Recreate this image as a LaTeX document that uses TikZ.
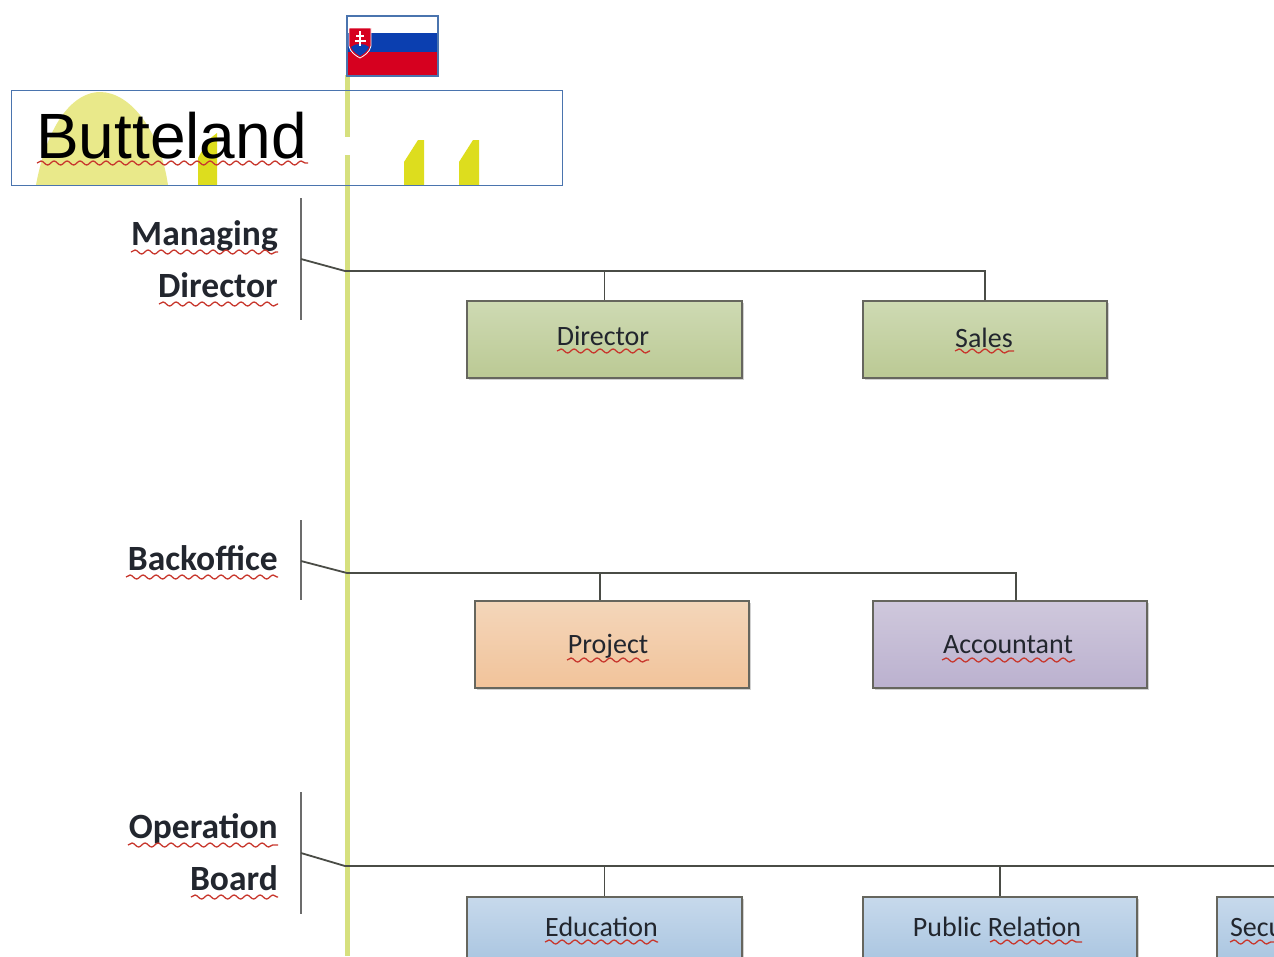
\documentclass[tikz,border=0pt]{standalone}
\usepackage{fontspec}
\setmainfont{Carlito}
\newfontfamily\arialfont{Liberation Sans}
\usetikzlibrary{decorations.pathmorphing,shadows}
\definecolor{boxedge}{HTML}{66665E}
\definecolor{inktext}{HTML}{22262E}
\definecolor{linedark}{HTML}{4A4C46}
\definecolor{squigred}{HTML}{C8382E}
\definecolor{frameblue}{HTML}{4A74AE}
\definecolor{green1}{HTML}{CEDAB3}
\definecolor{green2}{HTML}{BBC994}
\definecolor{orange1}{HTML}{F3D6BA}
\definecolor{orange2}{HTML}{F2C39A}
\definecolor{purple1}{HTML}{CFC8DC}
\definecolor{purple2}{HTML}{BBB1CF}
\definecolor{blue1}{HTML}{C7D9EC}
\definecolor{blue2}{HTML}{A9C5E0}
\definecolor{poleyellow}{HTML}{D6E07E}
\definecolor{hilllight}{HTML}{E9E98A}
\definecolor{hilldark}{HTML}{DDDD1E}
\definecolor{flagblue}{HTML}{0B3FB0}
\definecolor{flagred}{HTML}{D6001F}
\tikzset{
  px/.style={x=1pt,y=-1pt},
  orgbox/.style={draw=boxedge,line width=1.8pt,rectangle,inner sep=0pt,text=inktext,text height=12pt,text depth=1pt,font=\fontsize{28}{32}\selectfont,drop shadow={shadow xshift=1.5pt,shadow yshift=-1.5pt,fill=black!30,opacity=.6}},
  greenbox/.style={orgbox,top color=green1,bottom color=green2},
  orangebox/.style={orgbox,top color=orange1,bottom color=orange2,text height=17pt,text depth=0pt},
  purplebox/.style={orgbox,top color=purple1,bottom color=purple2,text height=17pt,text depth=0pt},
  bluebox/.style={orgbox,top color=blue1,bottom color=blue2},
  rowlabel/.style={anchor=base east,inner sep=0pt,text=inktext,font=\bfseries\fontsize{35.5}{40}\selectfont},
  bracket/.style={draw=gray!85!black,line width=2pt},
  conn/.style={draw=linedark,line width=1.8pt},
  squiggle/.style={draw=squigred,line width=1.3pt,decorate,decoration={snake,segment length=13pt,amplitude=2pt}},
  framebox/.style={draw=frameblue,line width=1.8pt,fill=none}
}
\newcommand{\squig}[3]{\draw[squiggle] (#1,#3) -- (#2,#3);}
\begin{document}
\begin{tikzpicture}[px]
\useasboundingbox (0,0) rectangle (1274,956);
\clip (0,0) rectangle (1274,956);
% pole
\fill[poleyellow] (345,75) rectangle (350,137);
\fill[poleyellow] (345,155) rectangle (350,956);
% hills in title box
\fill[hilllight] (36,185) .. controls (48,120) and (75,92) .. (100,92) .. controls (130,92) and (160,130) .. (168,185) -- cycle;
\fill[hilldark] (198,185) -- (198,158) -- (208,140) -- (217,133) -- (217,185) -- cycle;
\fill[hilldark] (404,185) -- (404,162) -- (418,140) -- (424,140) -- (424,185) -- cycle;
\fill[hilldark] (459,185) -- (459,162) -- (473,140) -- (479,140) -- (479,185) -- cycle;
% title
\node[framebox,rectangle,minimum width=551pt,minimum height=95pt,inner sep=0pt] (titlebox) at (287,138) {};
\node[anchor=base west,inner sep=0pt,font=\arialfont\fontsize{64}{70}\selectfont,text=black] (title) at (36,158) {Butteland};
\squig{37}{308}{163}
% flag
\fill[white] (347,16) rectangle (438,33);
\fill[flagblue] (347,33) rectangle (438,52);
\fill[flagred] (347,52) rectangle (438,76);
\fill[flagred,draw=white,line width=.8pt] (349,28) -- (371,28) -- (371,46) .. controls (370,52) and (364,56) .. (360,58) .. controls (356,56) and (350,52) .. (349,46) -- cycle;
\fill[flagblue] (351,47) .. controls (355,43) and (365,43) .. (369,47) .. controls (367,52) and (363,54) .. (360,56) .. controls (357,54) and (353,52) .. (351,47) -- cycle;
\draw[white,line width=1.6pt] (360,31) -- (360,46) (356,36) -- (364,36) (354.5,41) -- (365.5,41);
\node[framebox,rectangle,minimum width=91pt,minimum height=60pt,inner sep=0pt] (flag) at (392.5,46) {};
% row labels
\node[rowlabel] (md1) at (278,245) {Managing};
\node[rowlabel] (md2) at (278,297) {Director};
\node[rowlabel] (bo) at (278,570) {Backoffice};
\node[rowlabel] (ob1) at (278,838) {Operation};
\node[rowlabel] (ob2) at (278,890) {Board};
\squig{131}{278}{252}
\squig{159}{278}{304}
\squig{126}{278}{577}
\squig{128}{278}{845}
\squig{191}{278}{897}
% brackets
\coordinate (mdt) at (301,198); \coordinate (mdb) at (301,320); \coordinate (mdm) at (301,259); \coordinate (mdj) at (345,271); \coordinate (mde) at (985,271);
\coordinate (bot) at (301,520); \coordinate (bob) at (301,600); \coordinate (bom) at (301,561); \coordinate (boj) at (347,573); \coordinate (boe) at (1016,573);
\coordinate (obt) at (301,792); \coordinate (obb) at (301,914); \coordinate (obm) at (301,853); \coordinate (obj) at (345,866); \coordinate (obe) at (1274,866);
\draw[bracket] (mdt) -- (mdb);
\draw[bracket] (bot) -- (bob);
\draw[bracket] (obt) -- (obb);
% boxes
\node[greenbox,minimum width=275pt,minimum height=77pt] (director) at (604.5,339.5) {\hspace*{-3pt}Director};
\node[greenbox,minimum width=244pt,minimum height=77pt,text height=16pt] (sales) at (985,339.5) {\hspace*{-2pt}Sales};
\node[orangebox,minimum width=274pt,minimum height=87pt] (project) at (612,644.5) {\hspace*{-8pt}Project};
\node[purplebox,minimum width=274pt,minimum height=87pt] (accountant) at (1010,644.5) {\hspace*{-4pt}Accountant};
\node[bluebox,minimum width=275pt,minimum height=67pt] (education) at (604.5,930.5) {\hspace*{-6pt}Education};
\node[bluebox,minimum width=274pt,minimum height=67pt] (publicrel) at (1000,930.5) {\hspace*{-6pt}Public Relation};
\node[bluebox,minimum width=274pt,minimum height=67pt,align=left,text width=248pt] (security) at (1354,930.5) {Security};
\squig{557}{650}{351}
\squig{955}{1014}{351}
\squig{567}{649}{660}
\squig{942}{1075}{660}
\squig{545}{658}{942}
\squig{990}{1082}{942}
\squig{1230}{1274}{942}
% connectors
\draw[conn] (mdm) -- (mdj) -- (mde) -- (sales.north -| mde);
\draw[conn] (mdj -| director.north) -- (director.north);
\draw[conn] (bom) -- (boj) -- (boe) -- (accountant.north -| boe);
\coordinate (bod) at (600,573);
\draw[conn] (bod) -- (project.north -| bod);
\draw[conn] (obm) -- (obj) -- (obe);
\draw[conn] (obj -| education.north) -- (education.north);
\draw[conn] (obj -| publicrel.north) -- (publicrel.north);
\end{tikzpicture}
\end{document}
